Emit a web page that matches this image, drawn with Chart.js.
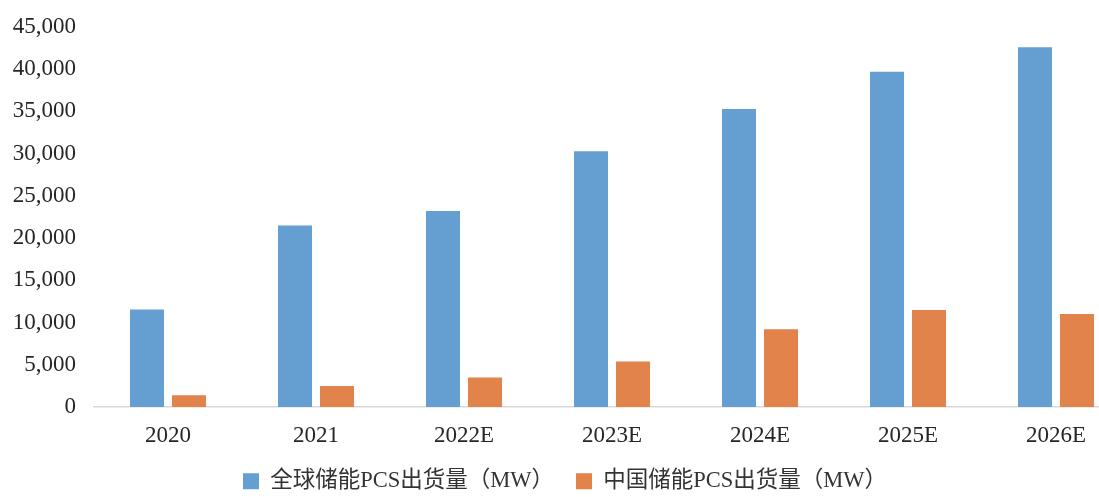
<!DOCTYPE html>
<html>
<head>
<meta charset="utf-8">
<script src="https://cdn.jsdelivr.net/npm/chart.js@4/dist/chart.umd.min.js"></script>
<style>
  html, body { margin: 0; padding: 0; background: #fff; overflow: hidden; }
  #wrap { width: 1099px; height: 497px; overflow: hidden; }
</style>
</head>
<body>
<div id="wrap"><canvas id="grafico-pcs" width="1130" height="497"></canvas></div>
<script>
const anos = ['2020', '2021', '2022E', '2023E', '2024E', '2025E', '2026E'];
const globalPcs = [11550, 21500, 23200, 30300, 35300, 39700, 42600];
const chinaPcs = [1400, 2500, 3500, 5400, 9200, 11500, 11000];
const yTicks = [0, 5000, 10000, 15000, 20000, 25000, 30000, 35000, 40000, 45000];

const fonteSerif = "'Liberation Serif', 'Times New Roman', 'Noto Sans CJK SC', serif";

// legenda mais baixa: altura fixa, texto perto da borda de baixo
const alturaLegenda = {
    id: 'alturaLegenda',
    afterInit(chart) {
        const lg = chart.legend;
        if (!lg) return;
        const fitOriginal = lg.fit.bind(lg);
        lg.fit = function() {
            fitOriginal();
            this.height = 49;
        };
    }
};

document.addEventListener('DOMContentLoaded', function() {
    const ctx = document.getElementById('grafico-pcs').getContext('2d');
    new Chart(ctx, {
        type: 'bar',
        data: {
            labels: anos,
            datasets: [{
                label: '全球储能PCS出货量（MW）',
                data: globalPcs,
                backgroundColor: '#659fd2',
                categoryPercentage: 0.5676,
                barPercentage: 0.81
            }, {
                label: '中国储能PCS出货量（MW）',
                data: chinaPcs,
                backgroundColor: '#e2834b',
                categoryPercentage: 0.5676,
                barPercentage: 0.81
            }]
        },
        plugins: [alturaLegenda],
        options: {
            responsive: false,
            animation: false,
            layout: { padding: { top: 27, right: 0, left: 0, bottom: 0 } },
            plugins: {
                tooltip: { enabled: false },
                legend: {
                    position: 'bottom',
                    labels: {
                        boxWidth: 16,
                        boxHeight: 16,
                        padding: 22,
                        color: '#333',
                        font: { family: fonteSerif, size: 22.5 }
                    }
                }
            },
            scales: {
                x: {
                    grid: { display: false, drawTicks: false },
                    border: { display: true, color: '#d9d9d9', width: 1.5 },
                    afterFit: function(scale) { scale.height = 41; },
                    ticks: {
                        color: '#262626',
                        padding: 15,
                        font: { family: fonteSerif, size: 23 }
                    }
                },
                y: {
                    min: 0,
                    max: 45000,
                    grid: { display: false, drawTicks: false },
                    border: { display: false },
                    afterFit: function(scale) {
                        scale.width = 94;
                        scale.paddingTop = 0;
                        scale.paddingBottom = 0;
                    },
                    afterBuildTicks: function(scale) {
                        scale.ticks = yTicks.map(v => ({ value: v }));
                    },
                    ticks: {
                        color: '#262626',
                        padding: 18,
                        font: { family: fonteSerif, size: 23 },
                        callback: v => v.toLocaleString('en-US')
                    }
                }
            }
        }
    });
});
</script>
</body>
</html>
